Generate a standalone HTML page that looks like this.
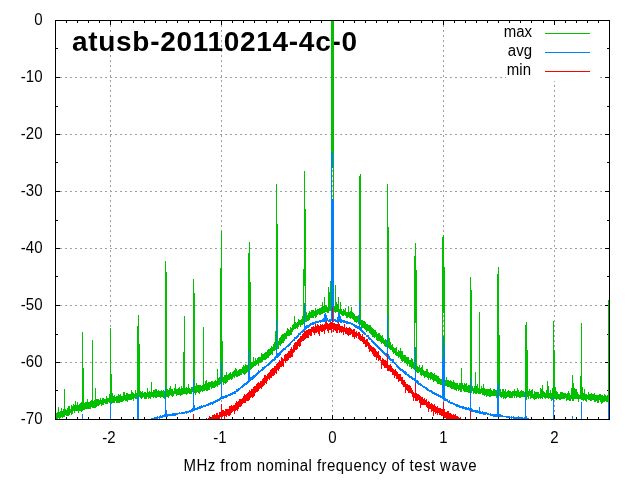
<!DOCTYPE html>
<html lang="en">
<head>
<meta charset="utf-8">
<title>atusb-20110214-4c-0</title>
<style>
html,body{margin:0;padding:0;background:#fff;}
body{width:640px;height:480px;overflow:hidden;}
svg{display:block;font-family:"Liberation Sans",Arial,Helvetica,sans-serif;}
.lbl text{font-size:15px;fill:#000;}
.crisp{shape-rendering:crispEdges;}
</style>
</head>
<body>
<svg width="640" height="480" viewBox="0 0 640 480">
<rect width="640" height="480" fill="#fff"/>
<g class="crisp" fill="none">
<path d="M110.5 20V419M221.5 20V419M332.5 20V419M443.5 20V419M554.5 20V419M55 77.5H609M55 134.5H609M55 191.5H609M55 248.5H609M55 305.5H609M55 362.5H609" stroke="#a0a0a0" stroke-width="1" stroke-dasharray="2 3"/>
</g>
<text x="72" y="51" font-size="28" font-weight="bold" fill="#000" textLength="285" lengthAdjust="spacing">atusb-20110214-4c-0</text>
<rect x="506" y="21" width="92" height="60" fill="#fff"/>
<g class="crisp" fill="none" stroke-width="1" stroke-linejoin="bevel">
<path d="M66 420v-3h1v3zM66 20v3h1v-3zM77 420v-3h1v3zM77 20v3h1v-3zM88 420v-3h1v3zM88 20v3h1v-3zM99 420v-3h1v3zM99 20v3h1v-3zM110 420v-5h1v5zM110 20v5h1v-5zM121 420v-3h1v3zM121 20v3h1v-3zM133 420v-3h1v3zM133 20v3h1v-3zM144 420v-3h1v3zM144 20v3h1v-3zM155 420v-3h1v3zM155 20v3h1v-3zM166 420v-3h1v3zM166 20v3h1v-3zM177 420v-3h1v3zM177 20v3h1v-3zM188 420v-3h1v3zM188 20v3h1v-3zM199 420v-3h1v3zM199 20v3h1v-3zM210 420v-3h1v3zM210 20v3h1v-3zM221 420v-5h1v5zM221 20v5h1v-5zM232 420v-3h1v3zM232 20v3h1v-3zM243 420v-3h1v3zM243 20v3h1v-3zM254 420v-3h1v3zM254 20v3h1v-3zM266 420v-3h1v3zM266 20v3h1v-3zM277 420v-3h1v3zM277 20v3h1v-3zM288 420v-3h1v3zM288 20v3h1v-3zM299 420v-3h1v3zM299 20v3h1v-3zM310 420v-3h1v3zM310 20v3h1v-3zM321 420v-3h1v3zM321 20v3h1v-3zM332 420v-5h1v5zM332 20v5h1v-5zM343 420v-3h1v3zM343 20v3h1v-3zM354 420v-3h1v3zM354 20v3h1v-3zM365 420v-3h1v3zM365 20v3h1v-3zM376 420v-3h1v3zM376 20v3h1v-3zM387 420v-3h1v3zM387 20v3h1v-3zM398 420v-3h1v3zM398 20v3h1v-3zM410 420v-3h1v3zM410 20v3h1v-3zM421 420v-3h1v3zM421 20v3h1v-3zM432 420v-3h1v3zM432 20v3h1v-3zM443 420v-5h1v5zM443 20v5h1v-5zM454 420v-3h1v3zM454 20v3h1v-3zM465 420v-3h1v3zM465 20v3h1v-3zM476 420v-3h1v3zM476 20v3h1v-3zM487 420v-3h1v3zM487 20v3h1v-3zM498 420v-3h1v3zM498 20v3h1v-3zM509 420v-3h1v3zM509 20v3h1v-3zM520 420v-3h1v3zM520 20v3h1v-3zM531 420v-3h1v3zM531 20v3h1v-3zM543 420v-3h1v3zM543 20v3h1v-3zM554 420v-5h1v5zM554 20v5h1v-5zM565 420v-3h1v3zM565 20v3h1v-3zM576 420v-3h1v3zM576 20v3h1v-3zM587 420v-3h1v3zM587 20v3h1v-3zM598 420v-3h1v3zM598 20v3h1v-3zM55 20h5v1h-5zM610 20h-5v1h5zM55 48h3v1h-3zM610 48h-3v1h3zM55 77h5v1h-5zM610 77h-5v1h5zM55 106h3v1h-3zM610 106h-3v1h3zM55 134h5v1h-5zM610 134h-5v1h5zM55 162h3v1h-3zM610 162h-3v1h3zM55 191h5v1h-5zM610 191h-5v1h5zM55 220h3v1h-3zM610 220h-3v1h3zM55 248h5v1h-5zM610 248h-5v1h5zM55 276h3v1h-3zM610 276h-3v1h3zM55 305h5v1h-5zM610 305h-5v1h5zM55 334h3v1h-3zM610 334h-3v1h3zM55 362h5v1h-5zM610 362h-5v1h5zM55 390h3v1h-3zM610 390h-3v1h3zM55 419h5v1h-5zM610 419h-5v1h5z" fill="#000" stroke="none"/>
<path d="M55 413H57V412H58V407H59V412H60V411H61V408H62V411H63V409H64V389H65V409H66V410H67V408H68V406H70V409H71V405H72V406H73V404H74V405H75V401H76V405H77V402H78V405H79V404H80V403H81V402H82V332H83V368H84V403H85V402H87V399H88V402H90V401H91V400H92V340H93V401H94V400H95V388H96V399H99V400H100V398H101V400H102V398H104V399H106V396H107V398H109V394H110V328H111V374H112V393H113V396H114V395H115V397H116V396H118V394H119V395H120V394H121V396H123V392H125V395H126V393H128V394H131V390H132V392H133V393H134V394H135V390H136V393H137V326H138V315H139V344H140V391H141V392H142V391H143V393H144V392H146V393H147V388H148V392H149V391H150V392H151V382H152V392H153V390H155V389H157V391H158V390H159V391H161V390H162V391H163V390H164V391H165V261H166V272H167V389H168V390H169V388H170V386H171V389H173V391H174V388H175V384H176V389H178V388H179V387H180V389H181V386H182V388H183V352H184V316H185V388H186V387H187V388H188V384H189V388H190V389H191V387H193V279H194V293H195V386H196V383H197V385H201V386H202V385H203V327H204V384H205V381H206V380H207V383H208V382H211V381H213V382H214V381H215V380H216V381H217V369H218V378H219V377H220V268H221V231H222V341H223V377H224V375H226V372H227V375H228V374H229V373H230V372H231V374H232V372H233V371H234V370H235V368H236V369H237V371H238V370H239V369H242V367H243V365H244V366H245V364H246V365H248V253H249V242H250V282H251V362H253V357H254V361H255V358H256V360H257V358H258V357H261V353H262V354H264V353H265V352H267V350H268V349H270V348H271V346H272V347H273V344H274V342H275V331H276V184H277V224H278V341H279V338H280V337H281V335H282V334H284V333H286V331H287V328H288V329H289V330H290V327H291V328H292V325H293V324H294V316H295V322H296V323H297V322H298V319H299V320H301V319H302V316H303V269H304V171H305V209H306V312H307V315H308V313H309V311H310V312H311V310H314V311H315V308H316V310H317V309H319V308H321V307H322V302H323V306H324V297H325V305H327V307H328V287H329V292H330V281H331V306H332V303H333V305H334V306H335V285H336V302H337V304H338V297H339V309H340V302H341V309H342V311H343V309H344V310H345V308H346V312H348V306H349V312H350V311H351V307H352V312H353V313H354V314H355V316H358V315H359V176H360V174H361V320H363V321H365V322H366V324H368V325H371V327H372V328H373V329H374V330H376V332H377V334H378V333H380V335H381V336H382V335H383V338H384V340H385V339H386V340H387V184H388V227H389V338H390V342H391V345H392V344H393V347H394V348H396V347H397V352H398V350H399V351H400V348H401V351H403V355H406V357H409V360H411V358H412V359H413V362H414V256H415V243H416V270H417V366H418V367H419V365H420V368H421V367H422V365H423V370H424V371H426V369H428V372H429V373H430V372H432V373H433V374H434V373H435V375H437V376H439V378H440V379H442V237H443V235H444V267H445V380H446V377H447V380H449V381H450V380H451V381H452V382H453V380H454V382H455V383H458V385H459V383H461V368H462V383H463V385H464V383H465V384H466V383H467V386H468V385H470V277H471V290H472V386H473V388H474V386H475V372H476V386H477V384H478V388H479V312H480V389H481V386H482V388H483V384H484V388H485V389H490V388H491V390H492V391H493V389H495V390H497V274H498V267H499V335H500V389H501V392H502V389H504V391H505V389H506V392H507V391H508V390H509V391H511V392H512V391H514V389H515V391H517V388H518V390H519V392H520V391H521V390H522V391H524V392H525V325H526V322H527V350H528V391H529V389H530V391H531V390H532V389H533V394H534V391H535V392H539V394H540V388H541V389H542V385H543V391H544V392H545V393H546V390H547V381H548V386H549V393H550V390H551V393H552V388H553V321H554V350H555V387H556V391H557V392H558V394H560V392H563V393H566V394H567V393H568V391H569V393H570V395H571V388H572V375H573V383H574V388H575V389H577V392H578V394H579V395H580V376H581V323H582V387H583V393H584V389H585V394H587V395H588V392H589V394H591V393H592V394H594V393H595V395H599V394H601V395H603V396H604V394H605V395H606V396H607V395H608V300H609V396H610V402H609V403H608V402H606V401H605V402H603V403H602V404H601V402H600V400H599V403H597V401H596V402H594V400H592V401H590V400H588V399H587V402H586V401H585V400H584V401H583V400H581V399H579V402H578V399H574V401H572V399H571V401H569V400H567V401H566V398H565V399H561V400H559V399H557V400H556V399H554V398H553V400H552V401H551V399H550V398H549V399H548V398H546V399H545V398H544V397H543V399H542V398H541V399H540V398H539V399H538V398H537V399H535V400H534V399H533V398H531V399H530V396H529V399H528V397H527V400H526V398H525V397H521V398H519V397H517V398H516V396H515V398H514V396H513V398H509V397H507V398H506V399H505V398H504V399H503V397H502V398H501V397H500V396H499V397H497V398H496V396H491V397H489V396H487V397H486V395H485V396H484V395H482V393H481V394H478V393H477V394H475V393H474V394H473V391H472V393H468V392H464V391H463V389H462V392H460V390H459V391H458V389H457V391H456V390H454V389H451V388H450V387H447V386H443V385H440V384H437V382H436V381H434V382H433V380H432V379H431V380H430V378H429V380H428V378H427V377H425V378H424V376H423V375H422V376H421V375H420V372H419V373H417V372H415V370H414V369H413V368H412V369H411V367H409V364H408V366H407V364H406V363H404V361H403V362H402V361H401V359H400V357H399V358H398V356H396V355H395V353H394V354H393V352H392V350H390V349H389V348H387V347H385V346H384V344H383V343H382V344H381V342H380V341H377V340H376V337H375V338H374V337H372V335H371V334H370V333H369V331H367V332H366V330H365V329H364V328H361V325H360V323H359V324H358V322H357V323H356V322H354V320H353V319H352V318H351V319H350V318H349V317H348V318H346V316H345V315H344V316H342V315H341V314H340V313H338V312H336V313H335V312H334V311H333V312H332V311H329V313H327V312H325V313H323V314H321V315H319V314H318V315H317V317H316V318H315V316H314V318H310V320H309V321H307V322H305V324H303V325H301V327H300V325H299V327H298V329H297V328H296V329H294V330H293V332H292V335H290V336H287V339H285V341H284V343H282V344H281V346H280V345H279V349H276V350H275V351H273V355H272V354H271V355H270V356H269V358H267V359H266V360H263V362H261V363H259V366H258V364H257V365H256V366H254V367H253V368H252V369H251V370H250V371H248V372H247V373H246V374H245V375H244V374H243V373H242V375H240V376H238V377H236V376H235V378H234V377H233V379H232V380H231V379H230V380H228V382H227V383H226V384H225V383H224V385H223V382H222V384H220V385H218V387H217V386H216V387H215V388H212V389H211V387H210V390H208V391H206V390H205V391H203V392H202V391H201V392H200V394H199V393H198V392H197V393H196V395H195V393H194V392H192V394H189V393H188V394H187V395H186V394H183V395H181V396H180V395H177V396H176V394H174V396H173V397H172V396H171V395H170V396H169V398H168V397H166V399H164V398H163V397H161V398H160V397H157V398H155V397H154V398H153V397H151V399H150V398H149V399H148V397H147V399H144V397H143V398H142V399H141V398H140V397H139V400H137V399H135V398H134V401H133V399H132V400H128V402H127V401H125V400H124V401H123V402H120V403H116V401H115V403H112V404H110V403H109V402H108V404H105V403H104V405H102V406H101V404H100V405H99V406H97V407H96V408H92V407H91V409H85V410H83V411H82V412H81V411H79V413H78V411H75V413H74V411H73V414H72V415H71V413H70V415H69V416H66V415H65V417H63V418H62V417H61V418H60V419H59V418H58V419H55Z" fill="#00c000" stroke="none"/>
<rect x="331" y="20" width="3" height="290" fill="#00c000" stroke="none"/>
<path d="M82 414H83V419H82ZM110 402H111V419H110ZM137 396H138V395H139V419H137ZM146 419H151V418H154V417H157V416H158V417H159V416H160V415H161V416H162V415H164V414H165V387H166V410H167V414H172V413H179V412H180V413H181V412H185V411H189V410H191V409H192V408H193V379H194V405H195V408H197V407H199V406H201V405H202V406H203V405H206V404H208V403H210V402H213V401H215V400H217V399H219V398H220V397H221V362H222V396H225V395H228V394H230V393H232V392H234V391H236V389H238V388H240V387H241V386H242V385H243V384H244V383H246V382H247V381H248V350H249V371H250V377H252V376H253V375H255V374H256V373H257V372H258V370H259V371H260V370H261V369H262V367H264V366H266V365H267V364H268V363H269V362H270V361H271V360H272V359H274V357H275V356H276V319H277V353H279V352H280V351H281V350H282V349H283V348H285V347H286V346H287V345H288V344H289V343H290V342H291V341H292V340H293V339H294V337H296V336H297V335H298V333H300V332H301V331H302V330H303V329H304V303H305V326H306V325H309V324H310V323H312V322H315V321H319V320H322V319H323V318H324V314H325V313H326V315H327V318H328V320H329V319H331V318H332V316H333V318H334V319H336V320H337V317H338V313H340V316H341V319H342V320H345V321H348V322H351V323H353V324H355V325H357V326H359V302H360V327H361V328H362V330H363V331H364V332H365V333H366V335H369V337H370V338H371V339H372V340H373V341H374V342H375V343H376V344H377V345H378V346H379V347H380V348H381V349H382V350H383V351H384V352H385V353H387V316H388V354H389V356H390V358H391V359H394V362H395V363H396V364H397V365H398V366H399V367H400V368H401V369H403V370H404V371H406V372H407V374H409V375H410V376H412V377H413V378H415V347H416V380H418V381H419V383H421V384H422V385H423V386H425V387H427V388H428V389H429V390H432V391H433V392H435V393H437V394H439V395H441V396H442V358H443V336H444V345H445V398H446V399H448V401H449V400H450V402H453V403H455V404H458V405H460V406H464V407H467V408H468V407H469V408H470V378H471V408H472V409H473V410H478V411H479V407H480V411H481V412H482V411H483V412H487V413H489V414H490V413H491V414H497V384H498V383H499V414H501V415H503V416H510V417H511V416H512V417H513V416H514V417H518V416H519V417H523V418H524V417H525V392H526V416H527V418H529V419H533V420H529V419H513V418H512V419H511V418H506V417H493V416H490V415H487V414H486V415H483V414H479V413H475V412H471V411H469V410H465V409H462V408H459V407H456V406H455V405H453V404H450V403H448V402H447V401H444V400H443V399H442V398H440V397H438V396H436V395H434V394H432V393H431V392H429V391H427V390H426V389H425V388H423V387H422V386H420V385H418V384H417V383H415V381H414V380H412V379H411V378H409V377H408V376H407V375H405V374H404V373H403V372H402V371H400V370H399V369H398V368H397V367H396V365H395V364H394V363H392V361H390V360H389V359H388V358H387V357H386V356H385V355H384V354H383V353H382V352H381V351H380V350H379V349H378V348H377V347H376V346H375V345H374V344H373V343H372V342H371V340H369V339H368V337H366V335H364V334H363V333H362V332H361V331H360V330H359V329H357V328H355V327H354V326H353V325H351V324H346V323H343V322H342V323H340V322H338V323H337V322H335V321H334V322H332V321H331V322H328V321H327V322H321V323H320V322H319V323H316V324H314V325H311V326H310V327H309V328H307V329H306V330H305V331H304V332H303V333H301V335H299V337H298V338H297V339H295V341H293V342H292V343H291V345H290V346H289V347H287V348H286V350H284V351H283V352H282V353H281V355H280V356H279V357H278V358H276V360H275V361H273V362H272V363H271V364H270V365H269V366H267V367H266V368H265V369H264V370H263V371H261V372H260V373H259V374H258V375H257V376H256V377H255V378H254V379H253V380H251V381H250V382H249V383H248V384H247V385H245V386H244V387H243V388H241V389H240V390H239V391H238V392H236V394H233V395H231V396H228V397H227V398H224V399H221V400H220V401H218V402H216V403H214V404H213V405H212V404H211V405H209V406H206V407H203V408H201V409H198V410H195V411H193V412H191V413H190V412H189V413H187V414H186V413H185V414H178V415H176V416H168V417H163V418H160V419H159V418H158V419H151V420H146ZM553 397H554V419H553ZM572 416H573V419H572ZM581 402H582V419H581ZM608 402H609V419H608Z" fill="#0080ff" stroke="none"/>
<rect x="331" y="152" width="2" height="168" fill="#0080ff" stroke="none"/>
<rect x="333" y="199" width="1" height="121" fill="#0080ff" stroke="none"/>
<path d="M193 414H194V419H193ZM206 418H207V419H208V418H209V416H210V418H211V417H212V415H214V414H215V415H216V413H218V415H219V412H221V404H222V410H224V411H225V409H229V406H231V405H232V406H233V405H235V403H236V401H237V402H238V401H239V399H242V398H243V396H244V394H245V395H246V394H247V393H248V392H249V390H250V391H251V389H253V387H254V386H256V384H257V383H258V382H259V383H260V381H262V379H263V378H264V375H266V376H267V374H268V373H269V372H270V370H271V369H272V368H274V366H276V364H277V363H278V362H279V360H280V361H281V357H282V358H283V359H284V355H285V354H287V353H288V351H290V349H291V347H292V349H293V345H294V343H295V342H297V340H298V339H299V338H300V336H302V334H303V333H304V331H306V330H308V329H311V327H313V326H314V327H315V324H316V326H317V324H318V325H319V326H320V324H321V325H322V324H323V325H324V324H325V322H326V321H327V323H328V324H329V323H330V322H332V307H333V323H335V324H338V322H339V324H340V326H343V327H344V324H345V328H346V327H347V328H349V327H350V328H351V329H352V330H353V329H355V332H356V331H357V333H358V332H360V334H361V336H362V334H363V337H365V340H366V339H368V342H369V343H370V345H371V346H372V347H374V348H375V349H376V351H377V352H378V351H379V355H380V356H381V360H382V358H383V359H384V360H386V361H387V354H388V365H390V364H391V366H392V368H393V369H394V370H395V369H396V371H397V372H398V374H401V377H403V380H405V382H406V384H408V385H410V386H411V388H412V390H413V392H414V393H415V383H416V393H417V394H419V395H420V396H421V397H423V399H424V398H425V400H426V399H427V402H428V401H429V402H430V404H431V403H432V404H433V405H434V404H435V406H436V407H437V406H438V408H441V409H443V402H444V409H445V412H447V411H449V413H451V414H452V415H453V414H454V415H455V414H456V416H458V417H459V418H460V417H461V419H446V418H444V417H443V416H441V415H439V413H438V415H437V413H436V414H435V412H434V416H433V411H432V412H431V409H429V412H428V408H427V407H426V405H421V408H420V403H419V400H418V401H415V398H414V401H413V397H412V394H411V393H408V391H407V390H406V393H405V387H403V385H402V384H401V381H399V382H398V379H396V376H395V378H394V375H392V372H390V371H387V368H384V366H383V365H382V369H381V361H380V360H379V361H378V358H377V360H376V357H374V356H373V354H372V352H371V351H370V352H369V349H368V346H367V347H365V344H363V342H362V341H360V340H359V339H358V336H357V338H356V337H355V339H354V337H352V334H351V335H349V336H348V335H347V334H345V332H344V335H343V332H342V333H341V332H340V333H339V330H338V333H336V331H335V330H334V332H333V329H332V333H331V330H329V333H328V331H327V329H326V330H325V334H324V331H323V332H321V331H320V336H319V334H318V332H317V333H315V335H314V333H313V332H312V336H310V335H309V338H306V339H305V340H304V341H302V342H301V346H300V347H299V346H298V349H297V350H295V352H294V353H293V357H291V358H289V360H288V361H286V363H285V361H284V367H283V366H282V367H280V369H279V371H278V370H277V374H276V373H275V375H274V376H272V378H270V380H269V379H268V381H267V384H266V383H265V385H264V386H263V387H262V389H261V388H260V389H259V391H258V392H256V393H255V396H254V397H253V398H252V397H251V398H250V400H249V401H246V403H243V404H242V406H241V407H239V409H238V411H237V410H236V411H235V414H234V411H233V412H232V413H231V415H230V416H228V415H227V417H226V416H225V419H224V416H223V417H222V419H221V417H220V419H208V420H207V419H206ZM470 411H471V419H470ZM498 418H499V419H498Z" fill="#ff0000" stroke="none"/>
<g stroke="none"><rect x="304" y="286" width="1" height="17" fill="#fff"/><rect x="415" y="323" width="1" height="24" fill="#fff"/><rect x="443" y="313" width="1" height="23" fill="#fff"/><rect x="443" y="315" width="1" height="2" fill="#a0a0a0"/><rect x="443" y="320" width="1" height="2" fill="#a0a0a0"/><rect x="443" y="325" width="1" height="2" fill="#a0a0a0"/><rect x="443" y="330" width="1" height="2" fill="#a0a0a0"/><rect x="443" y="335" width="1" height="1" fill="#a0a0a0"/><rect x="332" y="168" width="1" height="31" fill="#fff"/><rect x="332" y="170" width="1" height="2" fill="#a0a0a0"/><rect x="332" y="175" width="1" height="2" fill="#a0a0a0"/><rect x="332" y="180" width="1" height="2" fill="#a0a0a0"/><rect x="332" y="185" width="1" height="2" fill="#a0a0a0"/><rect x="332" y="190" width="1" height="2" fill="#a0a0a0"/><rect x="332" y="195" width="1" height="2" fill="#a0a0a0"/></g>
<path d="M545 33.5H590" stroke="#00c000"/>
<path d="M545 52.5H590" stroke="#0080ff"/>
<path d="M545 71.5H590" stroke="#ff0000"/>
<rect x="55.5" y="20.5" width="554" height="399" stroke="#000"/>
</g>
<g class="lbl" transform="scale(1,1.08)">
<text x="42.5" y="23.15" text-anchor="end">0</text><text x="42.5" y="75.93" text-anchor="end">-10</text><text x="42.5" y="128.70" text-anchor="end">-20</text><text x="42.5" y="181.48" text-anchor="end">-30</text><text x="42.5" y="234.26" text-anchor="end">-40</text><text x="42.5" y="287.04" text-anchor="end">-50</text><text x="42.5" y="339.81" text-anchor="end">-60</text><text x="42.5" y="392.59" text-anchor="end">-70</text>
<text x="109" y="410.19" text-anchor="middle">-2</text><text x="220" y="410.19" text-anchor="middle">-1</text><text x="332.5" y="410.19" text-anchor="middle">0</text><text x="443.5" y="410.19" text-anchor="middle">1</text><text x="554.5" y="410.19" text-anchor="middle">2</text>
<text x="532" y="34.72" text-anchor="end">max</text>
<text x="532" y="52.31" text-anchor="end">avg</text>
<text x="531" y="69.91" text-anchor="end">min</text>
<text x="183.5" y="436.11" textLength="293" lengthAdjust="spacing">MHz from nominal frequency of test wave</text>
</g>
</svg>
</body>
</html>
